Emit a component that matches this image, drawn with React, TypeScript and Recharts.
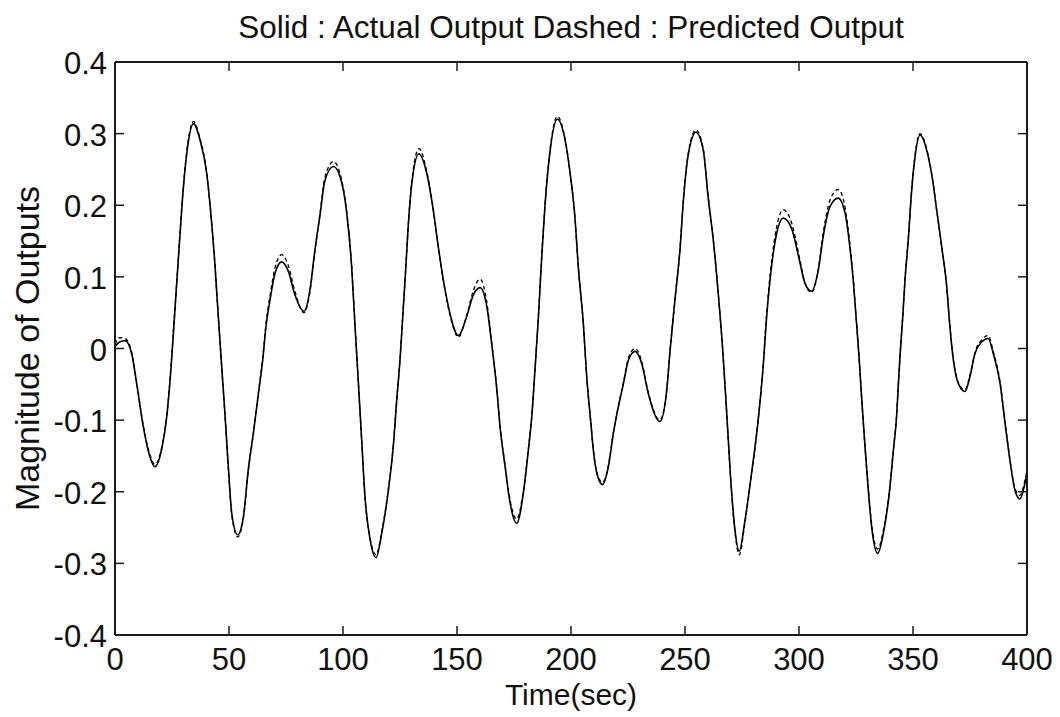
import React from 'react';
import { LineChart, Line, XAxis, YAxis } from 'recharts';

// Time (sec)
const time = [
  0, 2, 4.4, 7.3, 9.5, 12.4, 15.3, 17.5, 20.5, 22.7,
  24.5, 26, 28, 30, 32, 34.4, 37.3, 40.2, 41.7, 43.9,
  45.3, 46.8, 48.2, 49.7, 51.2, 53.8, 56.3, 58.5, 60.7, 62.9,
  64.8, 66.2, 68, 70.2, 73.1, 76, 78.9, 82.9, 85.5, 87.7,
  89.9, 92.1, 95.8, 98.7, 101.6, 103.8, 105.3, 106.7, 108.2, 109.6,
  111.9, 114.5, 117, 119.9, 122.1, 123.5, 125, 126.2, 127.4, 128.6,
  130.1, 133.3, 136.7, 139.6, 141.8, 144, 146.9, 150.6, 154.2, 157.2,
  160.1, 163, 165.2, 167.4, 168.9, 171.1, 173.3, 176.2, 179.1, 181.3,
  182.8, 184.2, 185.7, 187.2, 188.6, 190.8, 194, 197.4, 199.6, 201.7,
  203.2, 205.4, 206.9, 208.6, 209.8, 211.3, 213.8, 216.4, 218.6, 220.8,
  223, 225.2, 228.1, 231, 233.9, 239, 242, 243.4, 245.6, 247.8,
  249.3, 251.4, 254.8, 258, 260.2, 262.4, 264.5, 266.5, 268.3, 270,
  271.8, 273.8, 276.3, 279.2, 282.1, 284.3, 285.8, 287.3, 289.4, 293.1,
  296.7, 300.4, 302.5, 305.5, 308.5, 310.7, 313.6, 317.2, 320.2, 322.3,
  323.8, 325, 326.3, 327.5, 328.8, 330.2, 331.9, 334.5, 337, 339.6,
  341.4, 342.8, 343.6, 344.3, 345.5, 346.5, 348, 349.4, 350.9, 353.1,
  356, 358.6, 360.4, 362.6, 364.8, 366.2, 367.7, 369.9, 372.8, 375,
  377.2, 380.1, 383, 385.2, 388.2, 390.4, 392.5, 394.7, 396.9, 399.1,
  400,
];

// Solid: actual output
const actual = [
  0.003, 0.009, 0.011, -0.007, -0.049, -0.109, -0.151, -0.165, -0.14, -0.095,
  -0.03, 0.04, 0.135, 0.225, 0.285, 0.314, 0.291, 0.245, 0.2, 0.114,
  0.045, -0.025, -0.09, -0.165, -0.23, -0.26, -0.235, -0.168, -0.118, -0.063,
  -0.016, 0.03, 0.068, 0.105, 0.121, 0.108, 0.075, 0.052, 0.082, 0.138,
  0.186, 0.235, 0.254, 0.24, 0.19, 0.114, 0.03, -0.045, -0.128, -0.205,
  -0.267, -0.292, -0.258, -0.198, -0.135, -0.075, -0.016, 0.044, 0.105, 0.17,
  0.228, 0.272, 0.245, 0.193, 0.142, 0.096, 0.049, 0.018, 0.044, 0.075,
  0.085, 0.06, 0.007, -0.055, -0.11, -0.165, -0.216, -0.244, -0.202, -0.142,
  -0.095, -0.03, 0.044, 0.13, 0.2, 0.275, 0.32, 0.291, 0.245, 0.184,
  0.114, 0.035, -0.04, -0.1, -0.142, -0.174, -0.19, -0.165, -0.118, -0.081,
  -0.049, -0.016, -0.004, -0.021, -0.063, -0.102, -0.058, -0.005, 0.068, 0.138,
  0.207, 0.27, 0.302, 0.277, 0.21, 0.152, 0.08, 0.0, -0.09, -0.18,
  -0.25, -0.283, -0.24, -0.174, -0.1, -0.025, 0.044, 0.096, 0.147, 0.182,
  0.168, 0.12, 0.092, 0.08, 0.11, 0.158, 0.198, 0.21, 0.189, 0.142,
  0.095, 0.045, -0.01, -0.07, -0.13, -0.19, -0.25, -0.286, -0.258, -0.202,
  -0.142, -0.095, -0.049, -0.011, 0.044, 0.096, 0.155, 0.22, 0.268, 0.298,
  0.277, 0.235, 0.193, 0.142, 0.086, 0.03, -0.016, -0.049, -0.06, -0.039,
  -0.007, 0.009, 0.014, -0.007, -0.049, -0.105, -0.156, -0.198, -0.21, -0.188,
  -0.174,
];

// Dashed: predicted output
const predicted = [
  0.006, 0.015, 0.014, -0.005, -0.047, -0.107, -0.148, -0.162, -0.138, -0.094,
  -0.028, 0.042, 0.137, 0.227, 0.288, 0.317, 0.293, 0.246, 0.2, 0.114,
  0.045, -0.026, -0.091, -0.166, -0.232, -0.263, -0.237, -0.169, -0.118, -0.061,
  -0.013, 0.034, 0.074, 0.113, 0.131, 0.116, 0.08, 0.05, 0.079, 0.136,
  0.188, 0.239, 0.261, 0.244, 0.192, 0.115, 0.03, -0.046, -0.129, -0.206,
  -0.265, -0.288, -0.255, -0.196, -0.133, -0.074, -0.015, 0.045, 0.106, 0.171,
  0.231, 0.279, 0.248, 0.194, 0.142, 0.095, 0.047, 0.016, 0.046, 0.081,
  0.097, 0.066, 0.009, -0.054, -0.109, -0.163, -0.212, -0.238, -0.199, -0.14,
  -0.094, -0.029, 0.045, 0.131, 0.201, 0.277, 0.324, 0.293, 0.246, 0.184,
  0.114, 0.035, -0.04, -0.1, -0.141, -0.172, -0.187, -0.163, -0.117, -0.08,
  -0.047, -0.013, 0.0, -0.018, -0.061, -0.1, -0.057, -0.004, 0.069, 0.139,
  0.208, 0.272, 0.305, 0.279, 0.211, 0.152, 0.08, -0.001, -0.091, -0.182,
  -0.253, -0.288, -0.243, -0.175, -0.099, -0.022, 0.048, 0.102, 0.155, 0.194,
  0.176, 0.124, 0.093, 0.078, 0.112, 0.163, 0.207, 0.222, 0.197, 0.146,
  0.097, 0.046, -0.01, -0.07, -0.13, -0.188, -0.246, -0.28, -0.254, -0.2,
  -0.141, -0.094, -0.048, -0.01, 0.045, 0.097, 0.156, 0.221, 0.27, 0.3,
  0.279, 0.236, 0.193, 0.142, 0.086, 0.031, -0.015, -0.048, -0.058, -0.037,
  -0.005, 0.012, 0.018, -0.004, -0.047, -0.103, -0.154, -0.195, -0.205, -0.184,
  -0.171,
];

const xTicks = [0, 50, 100, 150, 200, 250, 300, 350, 400];
const yTicks = [-0.4, -0.3, -0.2, -0.1, 0, 0.1, 0.2, 0.3, 0.4];

const TITLE = 'Solid : Actual Output Dashed : Predicted Output';
const X_LABEL = 'Time(sec)';
const Y_LABEL = 'Magnitude of Outputs';

const data = time.map((t, i) => ({ t, actual: actual[i], predicted: predicted[i] }));

const FONT = '"Liberation Sans", Arial, Helvetica, sans-serif';
const TICK_FS = 31;
const TITLE_FS = 31.5;
const XLABEL_FS = 30;
const YLABEL_FS = 34;
const TICK_LEN = 9;
const AXIS_COLOR = '#1a1a1a';
const TEXT_COLOR = '#111';

const W = 1052;
const H = 709;
const PLOT_LEFT = 107;
const PLOT_RIGHT = 1019;
const PLOT_TOP = 54;
const PLOT_BOTTOM = 627;

const BottomTick = (props: any) => {
  const { x, y, payload } = props;
  return (
    <g>
      <line x1={x} y1={y} x2={x} y2={y - TICK_LEN} stroke={AXIS_COLOR} strokeWidth={1.5} />
      <text x={x} y={y + 35} textAnchor="middle" fontSize={TICK_FS} fontFamily={FONT} fill={TEXT_COLOR}>
        {String(payload.value)}
      </text>
    </g>
  );
};

const LeftTick = (props: any) => {
  const { x, y, payload } = props;
  return (
    <g>
      <line x1={x} y1={y} x2={x + TICK_LEN} y2={y} stroke={AXIS_COLOR} strokeWidth={1.5} />
      <text x={x - 8} y={y + 12} textAnchor="end" fontSize={TICK_FS} fontFamily={FONT} fill={TEXT_COLOR}>
        {String(payload.value)}
      </text>
    </g>
  );
};

const TopTick = (props: any) => {
  const { x, y } = props;
  return <line x1={x} y1={y} x2={x} y2={y + TICK_LEN} stroke={AXIS_COLOR} strokeWidth={1.5} />;
};

const RightTick = (props: any) => {
  const { x, y } = props;
  return <line x1={x} y1={y} x2={x - TICK_LEN} y2={y} stroke={AXIS_COLOR} strokeWidth={1.5} />;
};

const TitleLabel = () => (
  <text x={(PLOT_LEFT + PLOT_RIGHT) / 2} y={30} textAnchor="middle" fontSize={TITLE_FS} fontFamily={FONT} fill={TEXT_COLOR}>
    {TITLE}
  </text>
);

const XLabel = () => (
  <text x={(PLOT_LEFT + PLOT_RIGHT) / 2} y={697} textAnchor="middle" fontSize={XLABEL_FS} fontFamily={FONT} fill={TEXT_COLOR}>
    {X_LABEL}
  </text>
);

const YLabel = () => {
  const cy = (PLOT_TOP + PLOT_BOTTOM) / 2;
  return (
    <text
      x={31}
      y={cy}
      transform={`rotate(-90 31 ${cy})`}
      textAnchor="middle"
      fontSize={YLABEL_FS}
      fontFamily={FONT}
      fill={TEXT_COLOR}
    >
      {Y_LABEL}
    </text>
  );
};

export default function App() {
  return (
    <div style={{ width: W, height: H, background: '#fff' }}>
      <LineChart
        width={W}
        height={H}
        data={data}
        margin={{ top: PLOT_TOP - 1, right: W - PLOT_RIGHT - 1, bottom: H - PLOT_BOTTOM - 60, left: PLOT_LEFT - 100 }}
        style={{ background: '#fff' }}
      >
        <XAxis
          xAxisId="b"
          dataKey="t"
          type="number"
          domain={[0, 400]}
          ticks={xTicks}
          height={60}
          tickSize={0}
          tickMargin={0}
          tickLine={false}
          axisLine={{ stroke: AXIS_COLOR, strokeWidth: 2 }}
          tick={<BottomTick />}
          interval={0}
          label={<XLabel />}
        />
        <XAxis
          xAxisId="t"
          orientation="top"
          dataKey="t"
          type="number"
          domain={[0, 400]}
          ticks={xTicks}
          height={1}
          tickSize={0}
          tickMargin={0}
          tickLine={false}
          axisLine={{ stroke: AXIS_COLOR, strokeWidth: 2 }}
          tick={<TopTick />}
          interval={0}
          label={<TitleLabel />}
        />
        <YAxis
          yAxisId="l"
          type="number"
          domain={[-0.4, 0.4]}
          ticks={yTicks}
          width={100}
          tickSize={0}
          tickMargin={0}
          tickLine={false}
          axisLine={{ stroke: AXIS_COLOR, strokeWidth: 2 }}
          tick={<LeftTick />}
          interval={0}
          allowDataOverflow
          label={<YLabel />}
        />
        <YAxis
          yAxisId="r"
          orientation="right"
          type="number"
          domain={[-0.4, 0.4]}
          ticks={yTicks}
          width={1}
          tickSize={0}
          tickMargin={0}
          tickLine={false}
          axisLine={{ stroke: AXIS_COLOR, strokeWidth: 2 }}
          tick={<RightTick />}
          interval={0}
          allowDataOverflow
        />
        <Line
          xAxisId="b"
          yAxisId="l"
          dataKey="predicted"
          type="monotone"
          stroke="#000"
          strokeWidth={1.3}
          strokeDasharray="4 3"
          dot={false}
          isAnimationActive={false}
        />
        <Line
          xAxisId="b"
          yAxisId="l"
          dataKey="actual"
          type="monotone"
          stroke="#000"
          strokeWidth={1.6}
          dot={false}
          isAnimationActive={false}
        />
      </LineChart>
    </div>
  );
}
